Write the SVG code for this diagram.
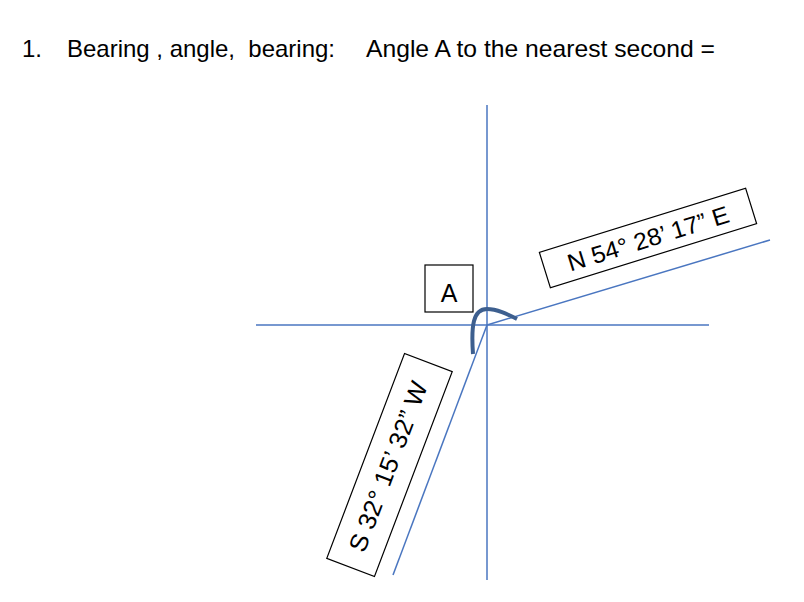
<svg xmlns="http://www.w3.org/2000/svg" width="804" height="602" viewBox="0 0 804 602">
<style>
.t{font-family:"Liberation Sans",Arial,sans-serif;fill:#000}
.ln{stroke:#4a76c0;stroke-width:1.5;fill:none}
.bx{fill:#fff;stroke:#000;stroke-width:1.2}
</style>
<rect width="804" height="602" fill="#fff"/>
<g id="title">
<text class="t" x="22" y="57" font-size="24" textLength="20" lengthAdjust="spacingAndGlyphs">1.</text>
<text class="t" x="67" y="57" font-size="24" textLength="268" lengthAdjust="spacingAndGlyphs" xml:space="preserve">Bearing , angle,  bearing:</text>
<text class="t" x="366" y="57" font-size="24" textLength="349" lengthAdjust="spacingAndGlyphs">Angle A to the nearest second =</text>
</g>
<g id="connectors">
<line class="ln" x1="487" y1="105" x2="487" y2="580"/>
<line class="ln" x1="256" y1="325" x2="709" y2="325"/>
<line class="ln" x1="487" y1="325" x2="770" y2="240"/>
<line class="ln" x1="487" y1="325" x2="393" y2="575"/>
<path d="M473,354 C471,326 473,309 487,309 C497,309 507,314 517,319" fill="none" stroke="#3d5f8f" stroke-width="4" stroke-linecap="butt"/>
</g>
<g id="nodeA">
<rect class="bx" x="425" y="265" width="48" height="47"/>
<text class="t" x="449" y="302" font-size="25" text-anchor="middle">A</text>
</g>
<g id="nodeN" transform="translate(648,238) rotate(-17.3)">
<rect class="bx" x="-108" y="-18.5" width="216" height="37"/>
<text class="t" x="0" y="9" font-size="24" text-anchor="middle" textLength="168" lengthAdjust="spacingAndGlyphs">N 54° 28’ 17” E</text>
</g>
<g id="nodeS" transform="translate(389.5,465) rotate(-69.2)">
<rect class="bx" x="-109.5" y="-25.5" width="219" height="51"/>
<text class="t" x="-2" y="8" font-size="25" text-anchor="middle" textLength="180" lengthAdjust="spacingAndGlyphs">S 32° 15’ 32” W</text>
</g>
</svg>
